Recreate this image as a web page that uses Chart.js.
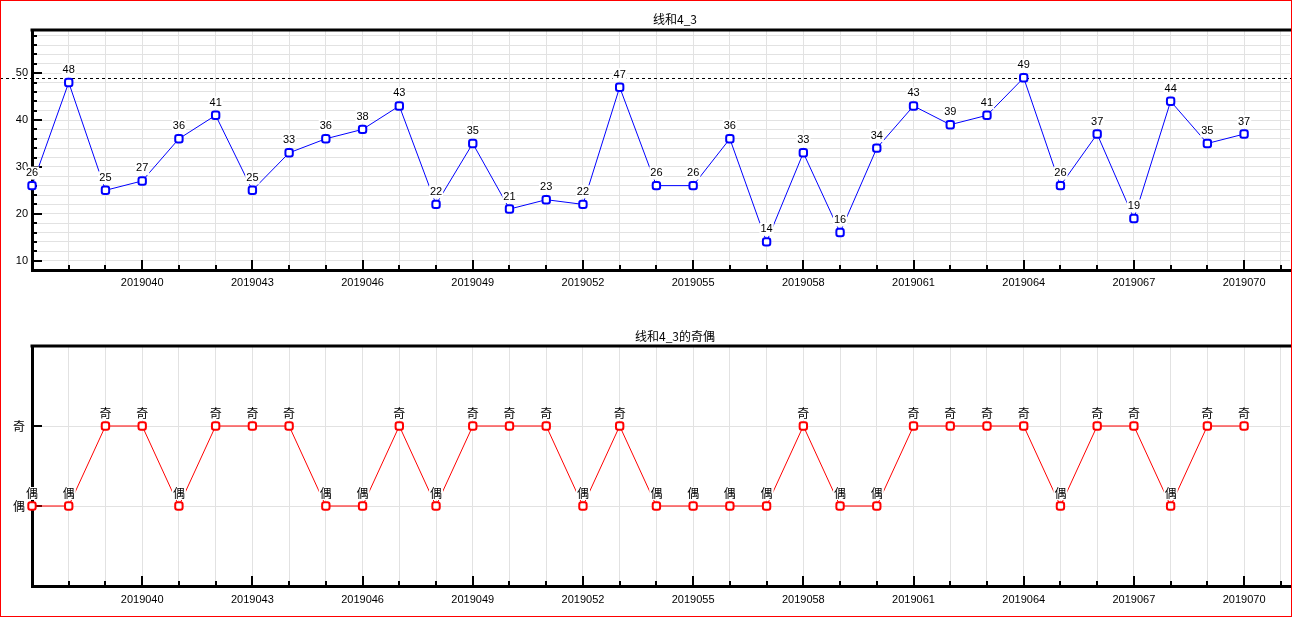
<!DOCTYPE html>
<html>
<head>
<meta charset="utf-8">
<script src="https://cdn.jsdelivr.net/npm/chart.js@4.4.1/dist/chart.umd.min.js"></script>
<style>
  body { margin: 0; background: #fff; }
  #wrap { position: relative; width: 1292px; height: 617px; background: #fff; overflow: hidden; }
  #topChart { position: absolute; left: 0; top: 0; }
  #botChart { position: absolute; left: 0; top: 310px; }
  #frame { position: absolute; left: 0; top: 0; width: 1292px; height: 617px; box-sizing: border-box; border: 1px solid #ff0000; pointer-events: none; }
</style>
</head>
<body>
<div id="wrap">
  <canvas id="topChart" width="1292" height="310"></canvas>
  <canvas id="botChart" width="1292" height="307"></canvas>
  <div id="frame"></div>
</div>
<script>
// data
const periods = ['2019037','2019038','2019039','2019040','2019041','2019042','2019043','2019044','2019045','2019046',
  '2019047','2019048','2019049','2019050','2019051','2019052','2019053','2019054','2019055','2019056',
  '2019057','2019058','2019059','2019060','2019061','2019062','2019063','2019064','2019065','2019066',
  '2019067','2019068','2019069','2019070'];
const values = [26,48,25,27,36,41,25,33,36,38,43,22,35,21,23,22,47,26,26,36,14,33,16,34,43,39,41,49,26,37,19,44,35,37];
const parity = ['偶','偶','奇','奇','偶','奇','奇','奇','偶','偶','奇','偶','奇','奇','奇','偶','奇','偶','偶','偶',
  '偶','奇','偶','偶','奇','奇','奇','奇','偶','奇','奇','偶','奇','奇'];
const xTickLabels = ['2019040','2019043','2019046','2019049','2019052','2019055','2019058','2019061','2019064','2019067','2019070'];
const yTicksTop = [10,20,30,40,50];
const yGridTop = [8,10,12,14,16,18,20,22,24,26,28,30,32,34,36,38,40,42,44,46,48,50,52,54,56,58];
const parityLabels = ['偶','奇'];
const refLine = 49;

const gridColor = '#e2e2e2';
const latin = "'Liberation Sans', Arial, sans-serif";
const cjk = "'Noto Sans CJK SC', 'Liberation Sans', sans-serif";

// ticks inside the plot, top frame line, dashed line, title
const decor = {
  id: 'decor',
  beforeDatasetsDraw(chart, args, o) {
    const {ctx, chartArea: a, scales: {x, y}} = chart;
    ctx.save();
    ctx.strokeStyle = '#000';
    ctx.lineWidth = 3;
    ctx.beginPath();
    ctx.moveTo(a.left - 1.5, a.top);
    ctx.lineTo(chart.width, a.top);
    ctx.stroke();

    ctx.lineWidth = 2;
    ctx.beginPath();
    x.ticks.forEach(t => {
      if (t.value === 0) return;
      const px = Math.round(x.getPixelForValue(t.value));
      const len = t.value % 3 === 0 ? 10 : 5;
      ctx.moveTo(px, a.bottom);
      ctx.lineTo(px, a.bottom - len);
    });
    y.ticks.forEach(t => {
      const py = Math.round(y.getPixelForValue(t.value));
      const len = o.yMajor.includes(t.value) ? 10 : 5;
      ctx.moveTo(a.left, py);
      ctx.lineTo(a.left + len, py);
    });
    ctx.stroke();

    if (o.refLine != null) {
      const py = Math.round(y.getPixelForValue(o.refLine)) + 0.5;
      ctx.lineWidth = 1;
      ctx.setLineDash([3, 3]);
      ctx.beginPath();
      ctx.moveTo(0, py);
      ctx.lineTo(chart.width, py);
      ctx.stroke();
    }
    ctx.restore();
  },
  afterDatasetsDraw(chart, args, o) {
    const {ctx} = chart;
    const meta = chart.getDatasetMeta(0);
    ctx.save();
    ctx.font = o.labelFont;
    ctx.textAlign = 'center';
    ctx.textBaseline = 'middle';
    meta.data.forEach((el, i) => {
      const txt = o.labels[i];
      const w = ctx.measureText(txt).width;
      const cy = el.y - 12.5;
      ctx.fillStyle = '#fff';
      ctx.fillRect(el.x - w / 2 - 1, cy - 6.5, w + 2, 13);
      ctx.fillStyle = '#000';
      ctx.fillText(txt, el.x, cy);
    });
    ctx.font = "12px " + cjk;
    ctx.fillText(o.title, o.titleX, o.titleY);
    ctx.restore();
  }
};

function xAxis(h, pad) {
  return {
    type: 'linear', min: 0, max: 34.25,
    afterBuildTicks: s => { s.ticks = periods.concat(['']).map((p, i) => ({value: i})); },
    afterFit: s => { s.height = h; s.paddingLeft = 0; s.paddingRight = 0; },
    grid: { color: gridColor, lineWidth: 1, drawTicks: false },
    border: { color: '#000', width: 3 },
    ticks: {
      padding: pad, color: '#000', autoSkip: false, maxRotation: 0,
      font: { family: latin, size: 11 },
      callback: v => xTickLabels.includes(periods[v]) ? periods[v] : ''
    }
  };
}

new Chart(document.getElementById('topChart'), {
  type: 'line',
  data: {
    datasets: [{
      data: values.map((v, i) => ({x: i, y: v})),
      borderColor: '#0000ff', borderWidth: 1,
      pointStyle: 'rectRounded', pointRadius: 4.3, pointBorderWidth: 2,
      pointBackgroundColor: '#fff', pointBorderColor: '#0000ff',
      tension: 0, clip: false
    }]
  },
  options: {
    responsive: false, animation: false, events: [],
    layout: { autoPadding: false, padding: { top: 30, right: 2, left: 0, bottom: 0 } },
    scales: {
      x: xAxis(40, 6),
      y: {
        type: 'linear', min: 8, max: 59.2,
        afterBuildTicks: s => { s.ticks = yGridTop.map(v => ({value: v})); },
        afterFit: s => { s.width = 32; },
        grid: { color: gridColor, lineWidth: 1, drawTicks: false },
        border: { color: '#000', width: 3 },
        ticks: {
          padding: 4, color: '#000', autoSkip: false,
          font: { family: latin, size: 11 },
          callback: v => yTicksTop.includes(v) ? String(v) : ''
        }
      }
    },
    plugins: {
      legend: { display: false }, tooltip: { enabled: false },
      decor: {
        yMajor: yTicksTop, refLine: refLine,
        labels: values.map(String), labelFont: "11px " + latin,
        title: '线和4_3', titleX: 675, titleY: 19
      }
    }
  },
  plugins: [decor]
});

new Chart(document.getElementById('botChart'), {
  type: 'line',
  data: {
    datasets: [{
      data: parity.map((p, i) => ({x: i, y: parityLabels.indexOf(p)})),
      borderColor: '#ff0000', borderWidth: 1,
      pointStyle: 'rectRounded', pointRadius: 4.3, pointBorderWidth: 2,
      pointBackgroundColor: '#fff', pointBorderColor: '#ff0000',
      tension: 0, clip: false
    }]
  },
  options: {
    responsive: false, animation: false, events: [],
    layout: { autoPadding: false, padding: { top: 36, right: 2, left: 0, bottom: 0 } },
    scales: {
      x: xAxis(31, 7),
      y: {
        type: 'linear', min: -1, max: 2,
        afterBuildTicks: s => { s.ticks = parityLabels.map((p, i) => ({value: i})); },
        afterFit: s => { s.width = 32; },
        grid: { color: gridColor, lineWidth: 1, drawTicks: false },
        border: { color: '#000', width: 3 },
        ticks: {
          padding: 7, color: '#000', autoSkip: false,
          font: { family: cjk, size: 12 },
          callback: v => parityLabels[v]
        }
      }
    },
    plugins: {
      legend: { display: false }, tooltip: { enabled: false },
      decor: {
        yMajor: [0, 1], refLine: null,
        labels: parity, labelFont: "12px " + cjk,
        title: '线和4_3的奇偶', titleX: 675, titleY: 26.5
      }
    }
  },
  plugins: [decor]
});
</script>
</body>
</html>
